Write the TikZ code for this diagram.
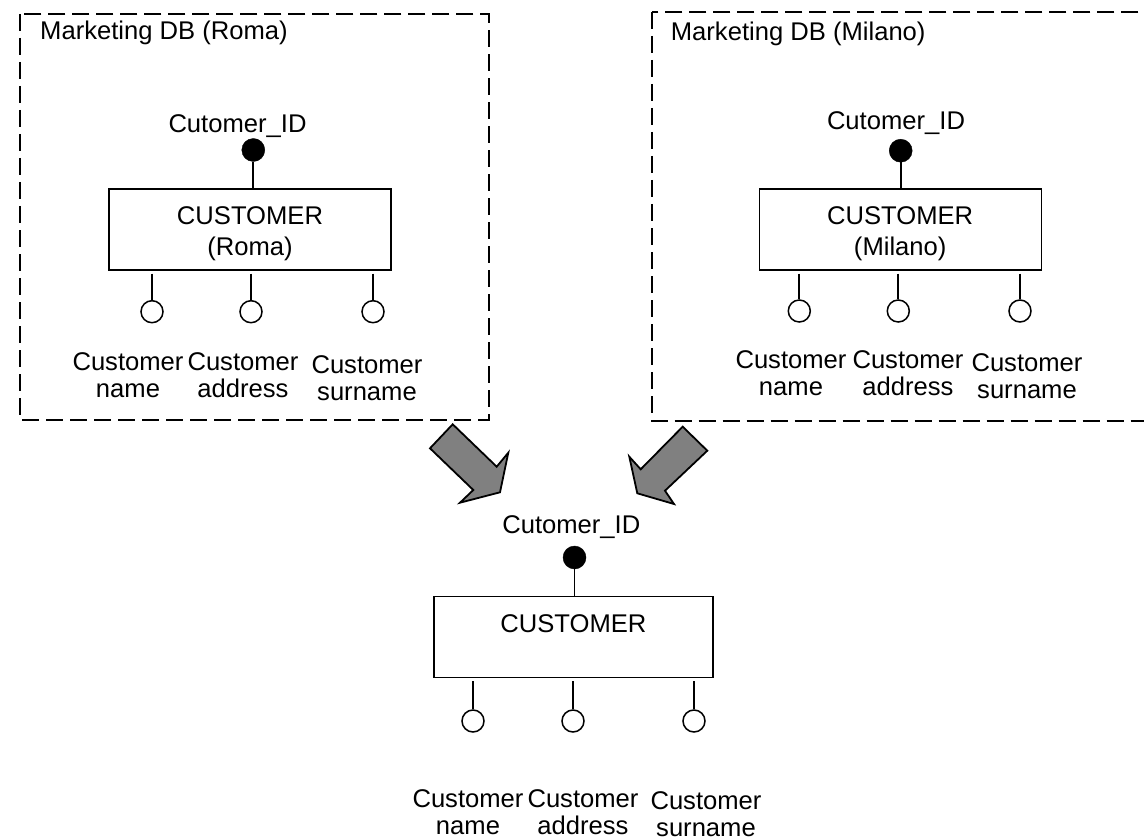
\documentclass[tikz,border=0pt]{standalone}
\usepackage{fontspec}
\setmainfont{Liberation Sans}
\newcommand\stackedtext[2]{\begin{tabular}[t]{@{}c@{}}#1\\#2\end{tabular}}
\begin{document}
\begin{tikzpicture}[x=1pt,y=-1pt,
  txt/.style={inner sep=0pt, font=\fontsize{25.6}{27}\selectfont},
  lbl/.style={txt, anchor=base},
  entity/.style={draw, line width=1.2pt, minimum width=282pt, minimum height=81pt,
    inner sep=0pt, font=\fontsize{25.6}{31}\selectfont, text height=20pt, text depth=29pt},
  keyattr/.style={circle, draw, fill=black, minimum size=23pt, inner sep=0pt},
  attr/.style={circle, draw, line width=1.5pt, minimum size=22pt, inner sep=0pt},
  link/.style={line width=1.8pt},
  attrlink/.style={link, shorten <=3pt},
  dbframe/.style={line width=2pt, dash pattern=on 17pt off 7pt},
  fatarrow/.style={draw, line width=1.8pt, fill=black!50, line join=miter}]
\useasboundingbox (0,0) rectangle (1144,840);

% database frames
\draw[dbframe] (20,14) rectangle (488.7,420);
\begin{scope}
  \clip (0,0) rectangle (1144,840);
  \draw[dbframe] (651.7,12) rectangle (1170,421);
\end{scope}
\node[txt, anchor=base west] (romaTitle) at (40,39.5) {Marketing DB (Roma)};
\node[txt, anchor=base west] (milanoTitle) at (670.7,41) {Marketing DB (Milano)};

% Roma schema
\node[entity] (romaCust) at (250,229.5) {\stackedtext{CUSTOMER}{(Roma)}};
\node[keyattr] (romaKey) at (253.3,150) {};
\node[lbl] (romaKeyLbl) at (237.5,133) {Cutomer\_ID};
\draw[link] (romaKey) -- (romaKey |- romaCust.north);
\node[attr] (romaA1) at (152,311.7) {};
\node[attr] (romaA2) at (251,311.7) {};
\node[attr] (romaA3) at (373,311.7) {};
\draw[attrlink] (romaA1 |- romaCust.south) -- (romaA1);
\draw[attrlink] (romaA2 |- romaCust.south) -- (romaA2);
\draw[attrlink] (romaA3 |- romaCust.south) -- (romaA3);
\node[lbl] (romaL1) at (128,370.5) {\stackedtext{Customer}{name}};
\node[lbl] (romaL2) at (243,370.5) {\stackedtext{Customer}{address}};
\node[lbl] (romaL3) at (367,373.5) {\stackedtext{Customer}{surname}};

% Milano schema
\node[entity] (milCust) at (900.2,229.5) {\stackedtext{CUSTOMER}{(Milano)}};
\node[keyattr] (milKey) at (900.7,150.7) {};
\node[lbl] (milKeyLbl) at (896,130) {Cutomer\_ID};
\draw[link] (milKey) -- (milKey |- milCust.north);
\node[attr] (milA1) at (799.3,311) {};
\node[attr] (milA2) at (898.3,311) {};
\node[attr] (milA3) at (1020,311) {};
\draw[attrlink] (milA1 |- milCust.south) -- (milA1);
\draw[attrlink] (milA2 |- milCust.south) -- (milA2);
\draw[attrlink] (milA3 |- milCust.south) -- (milA3);
\node[lbl] (milL1) at (791,368) {\stackedtext{Customer}{name}};
\node[lbl] (milL2) at (908,368) {\stackedtext{Customer}{address}};
\node[lbl] (milL3) at (1027,371) {\stackedtext{Customer}{surname}};

% merge arrows
\draw[fatarrow] (452.7,424.3) -- (496.7,466.7) -- (508.3,452.7) -- (500,492.3)
  -- (460,502.7) -- (473.3,490) -- (430,448.3) -- cycle;
\draw[fatarrow] (682.7,426.7) -- (707.3,450.7) -- (665,490.7) -- (674,504)
  -- (637.3,493.3) -- (629.3,456.7) -- (640.7,469.3) -- cycle;

% integrated schema
\node[entity, minimum width=279pt, text height=18pt, text depth=28pt] (cust) at (573.4,637) {CUSTOMER};
\node[keyattr] (key) at (574.5,557.5) {};
\node[lbl] (keyLbl) at (571.3,533) {Cutomer\_ID};
\draw[link] (key) -- (key |- cust.north);
\node[attr] (a1) at (473,721) {};
\node[attr] (a2) at (573,721) {};
\node[attr] (a3) at (694,721) {};
\draw[attrlink] (a1 |- cust.south) -- (a1);
\draw[attrlink] (a2 |- cust.south) -- (a2);
\draw[attrlink] (a3 |- cust.south) -- (a3);
\node[lbl] (l1) at (468,807) {\stackedtext{Customer}{name}};
\node[lbl] (l2) at (583,807) {\stackedtext{Customer}{address}};
\node[lbl] (l3) at (706,809) {\stackedtext{Customer}{surname}};
\end{tikzpicture}
\end{document}
